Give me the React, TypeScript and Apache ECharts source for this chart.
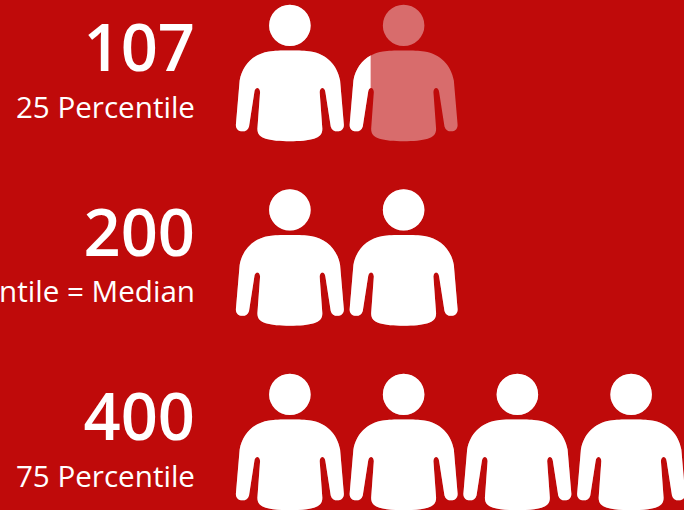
import React, { useEffect, useRef } from "react";
import * as echarts from "echarts";

const percentileLabels = ["25 Percentile", "50 Percentile = Median", "75 Percentile"];
const displayValues = ["107", "200", "400"];
const filledValues = [121, 200, 400];
const outlineValues = [200, 200, 400];

const PERSON =
  "path://M180 13A62 62 0 1 1 180 137A62 62 0 1 1 180 13ZM180 150C150 150 135 150 118 153C70 160 38 195 30 240L19 370C17 385 26 393 38 393C48 393 55 388 58 378L74 275C76 259 90 259 91 275L83 385C83 402 92 410 108 415C140 425 220 425 252 415C268 410 277 402 277 385L269 275C270 259 284 259 286 275L302 378C305 388 312 393 322 393C334 393 343 385 341 370L330 240C322 195 290 160 242 153C225 150 210 150 180 150Z";

const FONT = '"Open Sans", sans-serif';

export default function App() {
  const ref = useRef<HTMLDivElement>(null);
  useEffect(() => {
    document.body.style.margin = "0";
    const chart = echarts.init(ref.current!, null, { renderer: "svg" });
    const common = {
      type: "pictorialBar",
      symbol: PERSON,
      symbolSize: [108, 136.5],
      symbolRepeat: true,
      symbolMargin: "2.875!",
      symbolPosition: "start",
      barWidth: 137,
      barGap: "-100%",
      silent: true,
    };
    chart.setOption({
      animation: false,
      backgroundColor: "#BF0A0A",
      grid: { left: 233, top: -19.25, width: 455, height: 553.5, containLabel: false, outerBoundsMode: "none" },
      xAxis: { type: "value", min: 0, max: 400, show: false },
      yAxis: {
        type: "category",
        inverse: true,
        data: percentileLabels,
        axisLine: { show: false },
        axisTick: { show: false },
        splitLine: { show: false },
        axisLabel: {
          margin: 38,
          align: "right",
          color: "#FFFFFF",
          fontFamily: FONT,
          formatter: (label: string, index: number) =>
            `{v|${displayValues[index]}}\n{s|${label}}`,
          rich: {
            v: { fontSize: 65, fontWeight: 600, lineHeight: 66, color: "#FFFFFF", fontFamily: FONT, align: "right" },
            s: { fontSize: 29.6, lineHeight: 54, color: "#FFFFFF", fontFamily: FONT, align: "right" },
          },
        },
      },
      series: [
        {
          ...common,
          z: 2,
          itemStyle: { color: "rgba(255,255,255,0.4)" },
          data: outlineValues,
        },
        {
          ...common,
          z: 3,
          symbolClip: true,
          itemStyle: { color: "#FFFFFF" },
          data: filledValues.map((value, i) => ({ value, symbolBoundingData: outlineValues[i] })),
        },
      ],
    });
    return () => chart.dispose();
  }, []);
  return <div ref={ref} style={{ width: 684, height: 510 }} />;
}
